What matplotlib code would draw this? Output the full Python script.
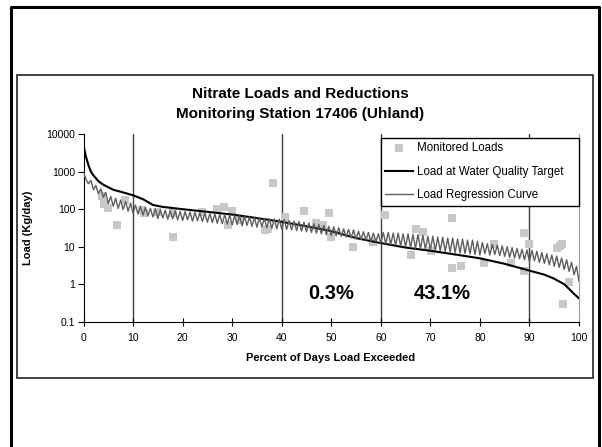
import matplotlib
matplotlib.use('Agg')
from matplotlib import pyplot as plt
from matplotlib.lines import Line2D
import numpy as np

plt.rcParams['font.family'] = ['Liberation Sans', 'DejaVu Sans']

# load at water quality target (black curve)
target_x = [0, 0.5, 1, 1.5, 2, 3, 4, 6, 8, 10, 12, 14, 16, 20, 25, 30, 35, 40, 45,
            50, 55, 60, 65, 70, 75, 80, 85, 90, 93, 95, 97, 98, 99, 100]
target_y = [5000, 2500, 1500, 1000, 800, 560, 450, 330, 280, 235, 185, 130, 115, 100,
            85, 72, 58, 46, 35, 26, 17, 12.5, 9.5, 7.8, 6.2, 4.9, 3.5, 2.3, 1.8, 1.4,
            1.0, 0.75, 0.55, 0.42]

# load regression curve (gray), one value every 0.5 percent
regression_y = [
    950, 620, 480, 590, 330, 430, 260, 350, 210, 280,
    140, 220, 120, 195, 105, 175, 98, 160, 88, 145,
    78, 128, 74, 118, 70, 112, 66, 105, 62, 102,
    56, 98, 58, 94, 54, 92, 55, 90, 52, 88,
    50, 86, 52, 84, 48, 82, 49, 80, 47, 78,
    45, 77, 44, 75, 42, 73, 41, 72, 40, 70,
    38, 68, 39, 66, 36, 64, 37, 62, 35, 60,
    33, 59, 34, 57, 32, 56, 31, 55, 30, 54,
    30, 53, 29, 50, 28, 48, 27, 47, 26, 45,
    25, 43, 24, 41, 23, 39, 22, 37, 21, 35,
    20, 34, 19.5, 32, 19, 30, 18, 29, 17, 28,
    16, 26, 15.5, 25, 15, 24, 14, 23, 13.5, 22,
    12.5, 24, 12, 24, 11.5, 23, 11, 23, 10.5, 22,
    10, 22, 9.5, 21, 9, 21, 8.8, 20, 8.5, 19,
    8.2, 19, 8, 18, 7.7, 18, 7.4, 17, 7.2, 17,
    7, 16, 6.8, 16, 6.6, 15, 6.4, 15, 6.2, 14,
    6, 13, 6.5, 12, 6, 11.5, 6.2, 11, 5.8, 10.5,
    5.5, 10, 5.2, 9.5, 5, 9, 4.8, 8.5, 4.5, 8.2,
    4, 8, 4.2, 7.5, 3.8, 7, 3.6, 6.5, 3.3, 6,
    3, 5.6, 2.8, 5, 2.5, 4.5, 2.2, 3.8, 1.8, 3.0,
    1.2]
regression_x = np.arange(len(regression_y)) * 0.5

# monitored loads (squares)
monitored_x = [3.8, 4.2, 5.0, 6.7, 8.4, 11.8, 12.3, 14.8, 18.0, 18.1, 23.9, 26.9, 28.4,
               29.2, 29.9, 31.6, 36.6, 37.2, 38.3, 40.7, 44.4, 46.9, 48.4, 49.6, 49.9,
               54.3, 58.4, 60.8, 66.1, 67.2, 68.6, 70.1, 74.3, 74.4, 76.2, 80.9, 82.9,
               86.3, 88.8, 89.0, 89.9, 95.6, 96.2, 96.6, 96.8, 98.0]
monitored_y = [230, 140, 105, 38, 178, 95, 80, 85, 18, 78, 83, 100, 112, 38, 91, 51, 28,
               30, 510, 61, 89, 42, 38, 78, 18, 9.6, 13.5, 70, 6, 29, 25, 7.8, 2.7, 59,
               3.1, 3.6, 11.5, 3.6, 23, 2.3, 11.5, 9.1, 10.5, 12, 0.3, 1.17]

zone_lines = [10, 40, 60, 90]
zone_labels = [(50, '0.3%'), (72.5, '43.1%')]

fig = plt.figure(figsize=(6.02, 4.47), dpi=100)
W, H = 602, 447

# outer frame and chart area frame
fig.add_artist(Line2D([11 / W, 11 / W, 599 / W, 599 / W], [0, 1 - 7 / H, 1 - 7 / H, 0],
                      color='black', lw=2.2))
fig.add_artist(plt.Rectangle((17 / W, 1 - 378 / H), 576 / W, 303 / H, fill=False,
                             edgecolor='#222222', lw=1.2, transform=fig.transFigure))

ax = fig.add_axes([83.5 / W, 1 - 321.7 / H, 495.5 / W, 187.5 / H])

for xv in zone_lines:
    ax.axvline(xv, color='#404040', lw=1.0, zorder=1)

ax.scatter(monitored_x, monitored_y, marker='s', s=38, color='#c8c8c8', lw=0, zorder=2,
           label='Monitored Loads')
ax.plot(target_x, target_y, color='black', lw=1.5, zorder=3,
        label='Load at Water Quality Target')
ax.plot(regression_x, regression_y, color='#5e5e5e', lw=1.0, zorder=4,
        label='Load Regression Curve')

for xv, t in zone_labels:
    ax.text(xv, 0.58, t, ha='center', va='center', fontsize=14.5, fontweight='bold')

ax.set_yscale('log')
ax.set_xlim(0, 100)
ax.set_ylim(0.1, 10000)
ax.set_xticks(range(0, 101, 10))
ax.set_yticks([0.1, 1, 10, 100, 1000, 10000])
ax.set_yticklabels(['0.1', '1', '10', '100', '1000', '10000'])
ax.minorticks_off()
ax.tick_params(axis='y', direction='out', length=4, labelsize=7.5, pad=2)
ax.tick_params(axis='x', direction='inout', length=6, labelsize=7.5, pad=5)
ax.spines['top'].set_visible(False)
ax.spines['right'].set_color('#a0a0a0')

leg = ax.legend(loc='lower left', bbox_to_anchor=(0.6, 0.617, 0.4, 0.383), mode='expand',
                fontsize=8.3, frameon=True, fancybox=False, edgecolor='black',
                framealpha=1, borderaxespad=0, labelspacing=1.0, handlelength=2.4,
                handletextpad=0.3, markerscale=0.9)
leg.get_frame().set_linewidth(1.0)
leg.set_zorder(10)

fig.text(300 / W, 1 - 94 / H, 'Nitrate Loads and Reductions', ha='center', va='center',
         fontsize=11, fontweight='bold')
fig.text(300 / W, 1 - 114 / H, 'Monitoring Station 17406 (Uhland)', ha='center',
         va='center', fontsize=11, fontweight='bold')
fig.text(331 / W, 1 - 358 / H, 'Percent of Days Load Exceeded', ha='center', va='center',
         fontsize=8, fontweight='bold')
fig.text(28 / W, 1 - 228 / H, 'Load (Kg/day)', ha='center', va='center', rotation=90,
         fontsize=8, fontweight='bold')

fig.savefig('out.png', dpi=100)
